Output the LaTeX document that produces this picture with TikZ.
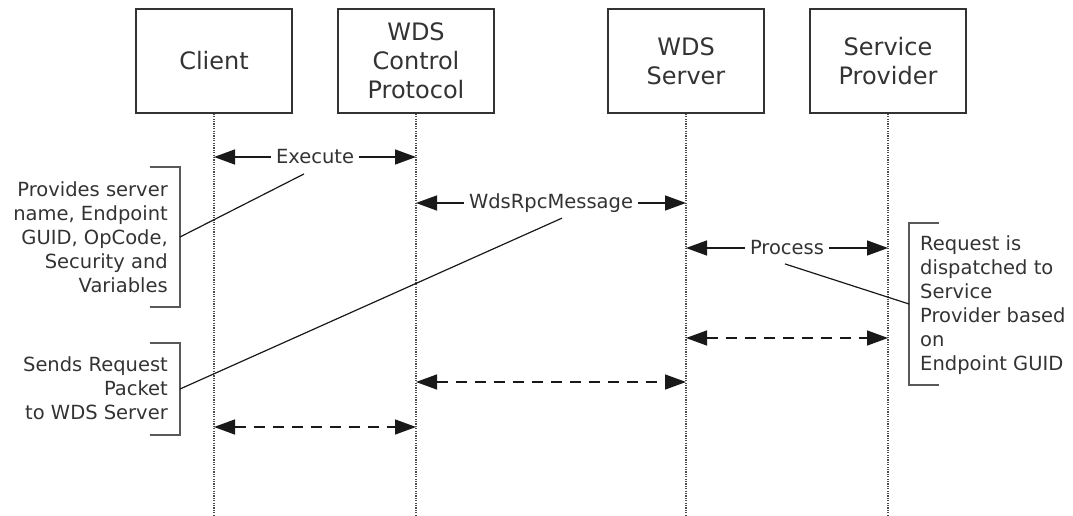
\documentclass[tikz,border=0pt]{standalone}
\usepackage{fontspec}
\setmainfont{DejaVu Sans}
\usetikzlibrary{arrows.meta}
\begin{document}
\begin{tikzpicture}[x=1pt,y=-1pt,
		actor/.style={draw=black!80,line width=1.6pt,minimum width=156pt,minimum height=104pt,align=center,text=black!80,font=\fontsize{24}{29}\selectfont},
		life/.style={black!70,line width=1.4pt,dash pattern=on 1.2pt off 1.2pt},
		msg/.style={black!90,line width=1.4pt,{Triangle[length=21pt,width=15pt]}-{Triangle[length=21pt,width=15pt]}},
		reply/.style={msg,dash pattern=on 11pt off 8pt},
		lbl/.style={fill=white,inner xsep=5pt,inner ysep=1pt,text=black!80,font=\fontsize{19.5}{24}\selectfont},
		note/.style={inner sep=0pt,text=black!80,font=\fontsize{19.5}{24}\selectfont},
		brace/.style={black!65,line width=1.4pt},
		lead/.style={black!90,line width=1.2pt}]
		\useasboundingbox (0,0) rectangle (1073,516);
		
		\node[actor] (client) at (214,61) {Client};
		\node[actor] (wdscp) at (416,61) {WDS\\Control\\Protocol};
		\node[actor] (server) at (686,61) {WDS\\Server};
		\node[actor] (provider) at (888,61) {Service\\Provider};
		
		\foreach \n in {client,wdscp,server,provider}
			\draw[life] (\n.south) -- (\n.south |- 0,516);
		
		\draw[msg] (client.south |- 0,157) -- node[lbl] (exec) {Execute} (wdscp.south |- 0,157);
		\draw[msg] (wdscp.south |- 0,203) -- node[lbl] (rpc) {WdsRpcMessage} (server.south |- 0,203);
		\draw[msg] (server.south |- 0,248) -- node[lbl] (proc) {Process} (provider.south |- 0,248);
		
		\draw[reply] (server.south |- 0,338) -- (provider.south |- 0,338);
		\draw[reply] (wdscp.south |- 0,382) -- (server.south |- 0,382);
		\draw[reply] (client.south |- 0,427) -- (wdscp.south |- 0,427);
		
		\draw[brace] (150,167) -- (180,167) -- (180,307) -- (150,307);
		\coordinate (params) at (180,237);
		\node[note,anchor=east,align=right] (paramtxt) at (168,237) {Provides server\\name, Endpoint\\GUID, OpCode,\\Security and\\Variables};
		\draw[lead] (params) -- ([shift={(-11,8)}]exec.south);
		
		\draw[brace] (150,343) -- (180,343) -- (180,435) -- (150,435);
		\coordinate (sends) at (180,389);
		\node[note,anchor=east,align=right] (sendtxt) at (168,388) {Sends Request\\Packet\\to WDS Server};
		\draw[lead] (sends) -- ([shift={(11,4)}]rpc.south);
		
		\draw[brace] (939,223) -- (909,223) -- (909,385) -- (939,385);
		\coordinate (dispatch) at (909,304);
		\node[note,anchor=west,align=left] (dispatchtxt) at (920,305) {Request is\\dispatched to\\Service\\Provider based\\on\\Endpoint GUID};
		\draw[lead] (dispatch) -- ([shift={(-2,7)}]proc.south);
	\end{tikzpicture}
\end{document}
